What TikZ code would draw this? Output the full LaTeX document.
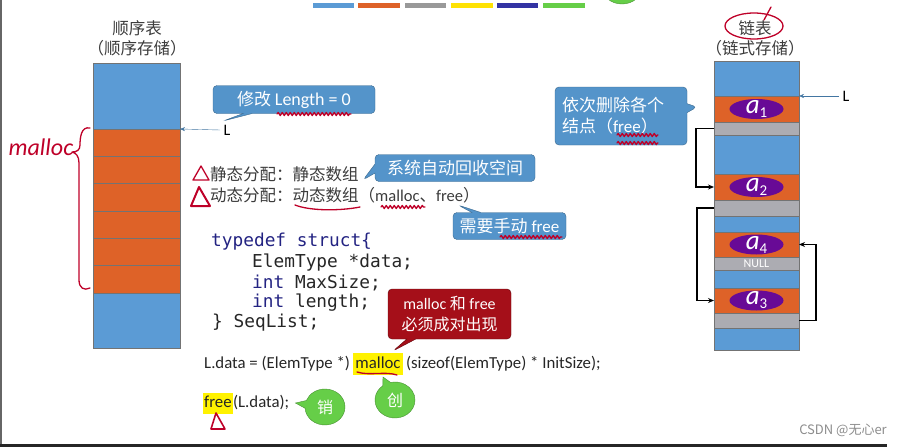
\documentclass[tikz,border=0pt]{standalone}
\usepackage{fontspec}
\setmainfont{Noto Sans CJK SC}
\newfontfamily\lat{Carlito}
\newfontfamily\code{DejaVu Sans Mono}
\usepackage{xcolor}
\usepackage{tikz}
\usetikzlibrary{arrows.meta, positioning, shapes.geometric, shapes.callouts, decorations.pathmorphing}

\definecolor{cellblue}{RGB}{91,155,213}
\definecolor{cellorange}{RGB}{222,98,40}
\definecolor{cellgray}{RGB}{172,172,178}
\definecolor{blobpurple}{RGB}{104,10,150}
\definecolor{tipblue}{RGB}{84,148,202}
\definecolor{tipred}{RGB}{165,15,25}
\definecolor{tipgreen}{RGB}{102,206,72}
\definecolor{ink}{RGB}{190,0,40}
\definecolor{kw}{RGB}{35,35,130}
\definecolor{txtgray}{RGB}{60,60,60}

\begin{document}
\begin{tikzpicture}[x=1pt, y=-1pt]
\tikzstyle{cell}=[draw=black!55, inner sep=0pt, outer sep=0pt]
\tikzstyle{sqcell}=[cell, minimum width=87pt]
\tikzstyle{lkcell}=[cell, minimum width=85pt]
\tikzstyle{blob}=[ellipse, fill=blobpurple, minimum width=54pt, minimum height=20pt, inner sep=0pt]
\tikzstyle{elem}=[text=white, inner sep=0pt, font=\lat\itshape\fontsize{27}{27}\selectfont]
\tikzstyle{title}=[text=txtgray, inner sep=0pt, font=\fontsize{16.5}{19}\selectfont]
\tikzstyle{txt}=[text=txtgray, inner sep=0pt, anchor=west, font=\fontsize{16.5}{19}\selectfont]
\tikzstyle{code}=[text=black!85, inner sep=0pt, anchor=west, font=\code\fontsize{17.8}{20}\selectfont]
\tikzstyle{plain}=[text=black!85, inner sep=0pt, font=\lat\fontsize{16.8}{19}\selectfont, text height=11.5pt, text depth=3pt]
\tikzstyle{tip}=[rectangle callout, rounded corners=4pt, draw=tipblue!70!black, fill=tipblue, text=white, inner sep=0pt, callout pointer width=9pt, font=\fontsize{17}{21}\selectfont]
\tikzstyle{redtip}=[tip, draw=tipred!60!black, fill=tipred, font=\fontsize{16}{21}\selectfont]
\tikzstyle{greentip}=[ellipse callout, draw=tipgreen!70!black, fill=tipgreen, text=white, inner sep=0pt, minimum width=40pt, minimum height=36pt, callout pointer arc=25, font=\fontsize{16}{16}\selectfont]
\tikzstyle{ptr}=[-{Stealth[length=5pt, width=4pt]}, draw=tipblue!80!black, thin]
\tikzstyle{link}=[-{Stealth[length=6pt, width=5pt]}, line width=1.2pt, black]
\tikzstyle{hand}=[draw=ink, line width=1.3pt, line cap=round, line join=round]
\tikzstyle{wavy}=[hand, decorate, decoration={snake, amplitude=1.6pt, segment length=4pt}]
\clip (0,0) rectangle (906,447);

% slide frame
\draw[black!60, line width=2pt] (1,0) -- (1,447);
\draw[black!85, line width=2.5pt] (0,445.5) -- (887,445.5);

% colour bars on top
\fill[cellblue] (313,3) rectangle (354,8);
\fill[cellorange] (358,3) rectangle (400,8);
\fill[black!40] (405,3) rectangle (446,8);
\fill[yellow!85!orange] (451,3) rectangle (493,8);
\fill[blue!55!black!80] (497,3) rectangle (538,8);
\fill[tipgreen] (543,3) rectangle (585,8);
\draw[fill=tipgreen, draw=tipgreen!70!black] (622,-13) ellipse [x radius=20, y radius=17];

% sequential list
\node[title] (sqt) at (137,28) {顺序表};
\node[title] (sqs) at (137,48) {（顺序存储）};
\node[sqcell, fill=cellblue, minimum height=66pt] (sq0) at (136.5,96) {};
\node[sqcell, fill=cellorange, minimum height=27.33pt, below=0pt of sq0] (sq1) {};
\node[sqcell, fill=cellorange, minimum height=27.33pt, below=0pt of sq1] (sq2) {};
\node[sqcell, fill=cellorange, minimum height=27.33pt, below=0pt of sq2] (sq3) {};
\node[sqcell, fill=cellorange, minimum height=27.33pt, below=0pt of sq3] (sq4) {};
\node[sqcell, fill=cellorange, minimum height=27.33pt, below=0pt of sq4] (sq5) {};
\node[sqcell, fill=cellorange, minimum height=27.33pt, below=0pt of sq5] (sq6) {};
\node[sqcell, fill=cellblue, minimum height=55pt, below=0pt of sq6] (sq7) {};

\node[font=\lat\fontsize{16}{16}\selectfont] (Lsq) at (227,130) {L};
\draw[ptr] (Lsq.west) -- (sq0.south east);

\node[tip, minimum width=162pt, minimum height=28pt, callout absolute pointer={(223,121)}] (len) at (294,99.5) {修改 {\lat\fontsize{18}{21}\selectfont Length = 0}};

% static / dynamic
\node[txt] (st) at (210,174) {静态分配：静态数组};
\node[txt] (dy) at (210,195) {动态分配：动态数组（{\lat malloc}、{\lat free}）};
\node[tip, minimum width=160pt, minimum height=27pt, callout absolute pointer={(363,180)}] (sys) at (455,168) {系统自动回收空间};
\node[tip, minimum width=113pt, minimum height=27pt, callout absolute pointer={(458,205)}] (man) at (509.5,226) {需要手动 {\lat free}};

% struct
\node[code] (c1) at (211,242) {\textcolor{kw}{typedef struct\{}};
\node[code] (c2) at (252,263) {ElemType *data;};
\node[code] (c3) at (252,283) {\textcolor{kw}{int} MaxSize;};
\node[code] (c4) at (252,303) {\textcolor{kw}{int} length;};
\node[code] (c5) at (212,323) {\} SeqList;};

% malloc / free lines
\node[plain, anchor=west] (ld) at (204,364) {L.data = (ElemType *)};
\node[plain, fill=yellow, inner xsep=2pt, minimum height=22pt, right=3pt of ld] (mal) {malloc};
\node[plain, right=3pt of mal] (sz) {(sizeof(ElemType) * InitSize);};
\node[plain, fill=yellow, inner xsep=1pt, minimum height=21pt, anchor=west] (fr) at (203,403) {free};
\node[plain, right=0pt of fr] (fa) {(L.data);};

\node[redtip, minimum width=123pt, minimum height=50pt, align=center, callout absolute pointer={(393,351)}] (pair) at (449.5,314) {{\lat malloc} 和 {\lat free}\\必须成对出现};
\node[greentip, callout absolute pointer={([xshift=6pt]fa.east)}] (xiao) at (325,407) {销};
\node[greentip, callout absolute pointer={(383,377)}] (chuang) at (395,400) {创};

% linked list
\node[title] (lkt) at (755,28) {链表};
\node[title] (lks) at (755,48) {（链式存储）};
\node[lkcell, fill=cellblue, minimum height=35pt] (lk0) at (756.5,78.5) {};
\node[lkcell, fill=cellorange, minimum height=26pt, below=0pt of lk0] (oa1) {};
\node[lkcell, fill=cellgray, minimum height=13pt, below=0pt of oa1] (ga1) {};
\node[lkcell, fill=cellblue, minimum height=39pt, below=0pt of ga1] (lk1) {};
\node[lkcell, fill=cellorange, minimum height=26pt, below=0pt of lk1] (oa2) {};
\node[lkcell, fill=cellgray, minimum height=16pt, below=0pt of oa2] (ga2) {};
\node[lkcell, fill=cellblue, minimum height=16pt, below=0pt of ga2] (lk2) {};
\node[lkcell, fill=cellorange, minimum height=25pt, below=0pt of lk2] (oa4) {};
\node[lkcell, fill=cellgray, minimum height=13pt, below=0pt of oa4, text=white, font=\lat\fontsize{12}{12}\selectfont] (ga4) {NULL};
\node[lkcell, fill=cellblue, minimum height=18pt, below=0pt of ga4] (lk3) {};
\node[lkcell, fill=cellorange, minimum height=25pt, below=0pt of lk3] (oa3) {};
\node[lkcell, fill=cellgray, minimum height=15pt, below=0pt of oa3] (ga3) {};
\node[lkcell, fill=cellblue, minimum height=22pt, below=0pt of ga3] (lk4) {};

\node[blob] (e1) at (oa1) {};
\node[blob] (e2) at (oa2) {};
\node[blob] (e4) at (oa4) {};
\node[blob] (e3) at (oa3) {};
\node[elem] at (e1) {a\raisebox{-4pt}{\upshape\fontsize{15}{15}\selectfont 1}};
\node[elem] at (e2) {a\raisebox{-4pt}{\upshape\fontsize{15}{15}\selectfont 2}};
\node[elem] at (e4) {a\raisebox{-4pt}{\upshape\fontsize{15}{15}\selectfont 4}};
\node[elem] at (e3) {a\raisebox{-4pt}{\upshape\fontsize{15}{15}\selectfont 3}};

\draw[link] (ga1.west) -- ++(-18,0) |- (oa2.west);
\draw[link] (ga2.west) -- ++(-17,0) |- (oa3.west);
\draw[link] (ga3.east) -- ++(17,0) |- (oa4.east);

\node[font=\lat\fontsize{16}{16}\selectfont] (Llk) at (846,96) {L};
\draw[ptr] (Llk.west) -- (lk0.south east);

\node[tip, minimum width=132pt, minimum height=58pt, text width=118pt, align=left, callout absolute pointer={(697,107)}] (del) at (621,116) {依次删除各个\\结点（{\lat free}）};

% watermark
\node[text=black!45, font=\fontsize{13}{13}\selectfont] (wm) at (843,430) {CSDN @无心er};

% handwriting
\node[text=ink, font=\lat\itshape\fontsize{24}{24}\selectfont] (mhand) at (41,147) {malloc};
\draw[hand] (90,128) .. controls (81,126) and (80,138) .. (80,145) .. controls (80,150) and (77,152) .. (72,152) .. controls (76,153) and (79,156) .. (79,163) -- (79,280) .. controls (79,288) and (84,291) .. (90,288);
\draw[hand] (193,180) -- (201,166) -- (209,180) -- cycle;
\draw[hand, line width=2pt] (191,206) -- (199,187) -- (210,206) -- cycle;
\draw[hand, line width=1.6pt] (211,429) -- (216,413) -- (225,429) -- cycle;
\draw[wavy] (277,114) -- (351,114);
\draw[hand] (295,205) .. controls (310,211) and (340,211) .. (360,207);
\draw[wavy] (381,207) -- (425,207);
\draw[wavy] (500,237) -- (562,237);
\draw[wavy] (617,135) -- (658,135);
\draw[wavy] (617,143) -- (658,143);
\draw[hand] (357,372) .. controls (370,376) and (385,371) .. (397,375);
\draw[hand] (754,26) ellipse [x radius=29, y radius=13];
\draw[hand] (764,20) -- (771,7);

\end{tikzpicture}
\end{document}
